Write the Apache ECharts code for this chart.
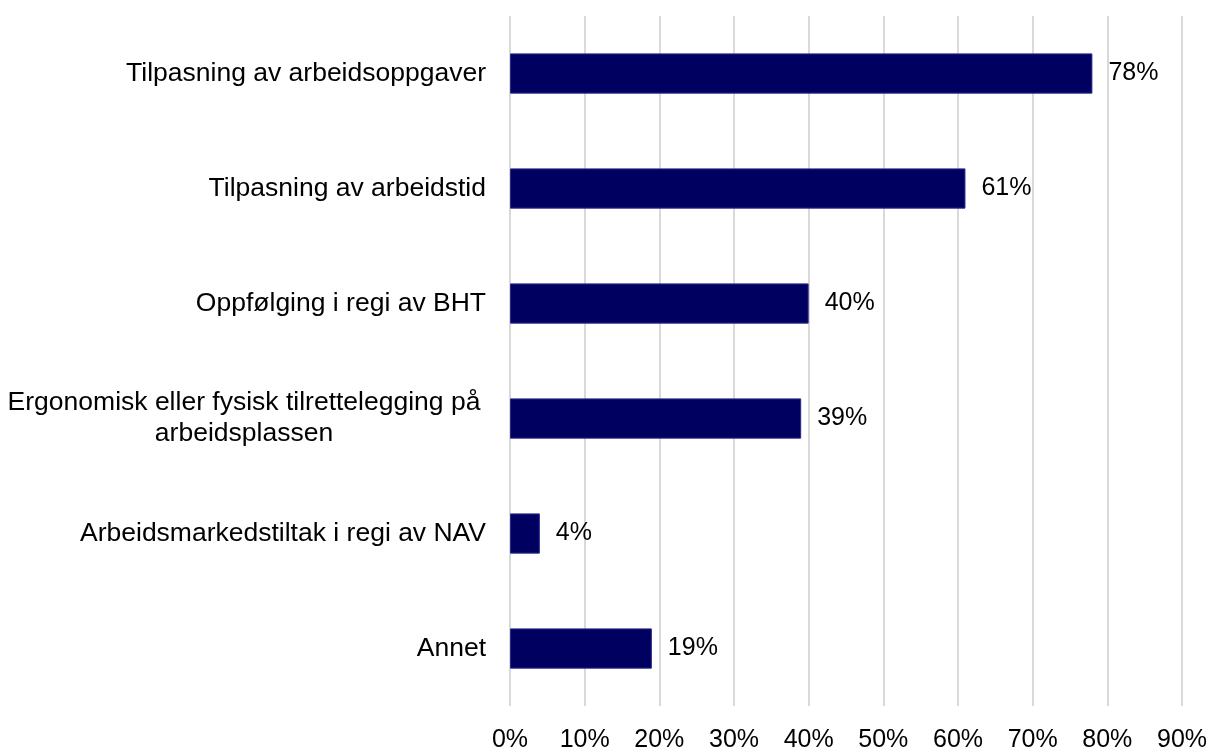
<!DOCTYPE html>
<html>
<head>
<meta charset="utf-8">
<script src="https://cdn.jsdelivr.net/npm/echarts@6/dist/echarts.min.js"></script>
<style>
  html, body { margin: 0; padding: 0; background: #fff; }
  #chart { width: 1212px; height: 747px; }
</style>
</head>
<body>
<div id="chart"></div>
<script>
// Measures listed top to bottom
const categories = [
  'Tilpasning av arbeidsoppgaver',
  'Tilpasning av arbeidstid',
  'Oppfølging i regi av BHT',
  'Ergonomisk eller fysisk tilrettelegging på\narbeidsplassen',
  'Arbeidsmarkedstiltak i regi av NAV',
  'Annet'
];
const shares = [78, 61, 40, 39, 4, 19];
const xTicks = [0, 10, 20, 30, 40, 50, 60, 70, 80, 90];

const font = '"Liberation Sans", Arial, sans-serif';
const chart = echarts.init(document.getElementById('chart'), null, { renderer: 'canvas' });

chart.setOption({
  animation: false,
  backgroundColor: '#ffffff',
  grid: {
    left: 510, right: 30, top: 16, bottom: 41,
    containLabel: false,
    outerBoundsMode: 'none'
  },
  xAxis: {
    type: 'value',
    min: xTicks[0],
    max: xTicks[xTicks.length - 1],
    interval: xTicks[1] - xTicks[0],
    axisLine: { show: false },
    axisTick: { show: false },
    splitLine: { show: true, lineStyle: { color: '#d9d9d9', width: 2 } },
    axisLabel: {
      formatter: v => v + '%',
      color: '#000',
      fontFamily: font,
      fontSize: 25,
      margin: 22
    }
  },
  yAxis: {
    type: 'category',
    inverse: true,
    data: categories,
    axisLine: { show: false },
    axisTick: { show: false },
    splitLine: { show: false },
    axisLabel: {
      color: '#000',
      fontFamily: font,
      fontSize: 26.5,
      margin: 24,
      lineHeight: 31,
      formatter: v => {
        if (v.indexOf('\n') >= 0) {
          return v.split('\n').map(s => '{c|' + s + '}').join('\n');
        }
        return v;
      },
      rich: {
        c: { width: 484, align: 'center', fontFamily: font, fontSize: 26.5, color: '#000', lineHeight: 31 }
      }
    }
  },
  series: [{
    type: 'bar',
    data: shares,
    barCategoryGap: '65%',
    itemStyle: { color: '#000060', borderColor: '#2b2b8a', borderWidth: 1 },
    label: {
      show: true,
      position: 'right',
      distance: 16,
      formatter: p => p.value + '%',
      color: '#000',
      fontFamily: font,
      fontSize: 25
    }
  }]
});
</script>
</body>
</html>
